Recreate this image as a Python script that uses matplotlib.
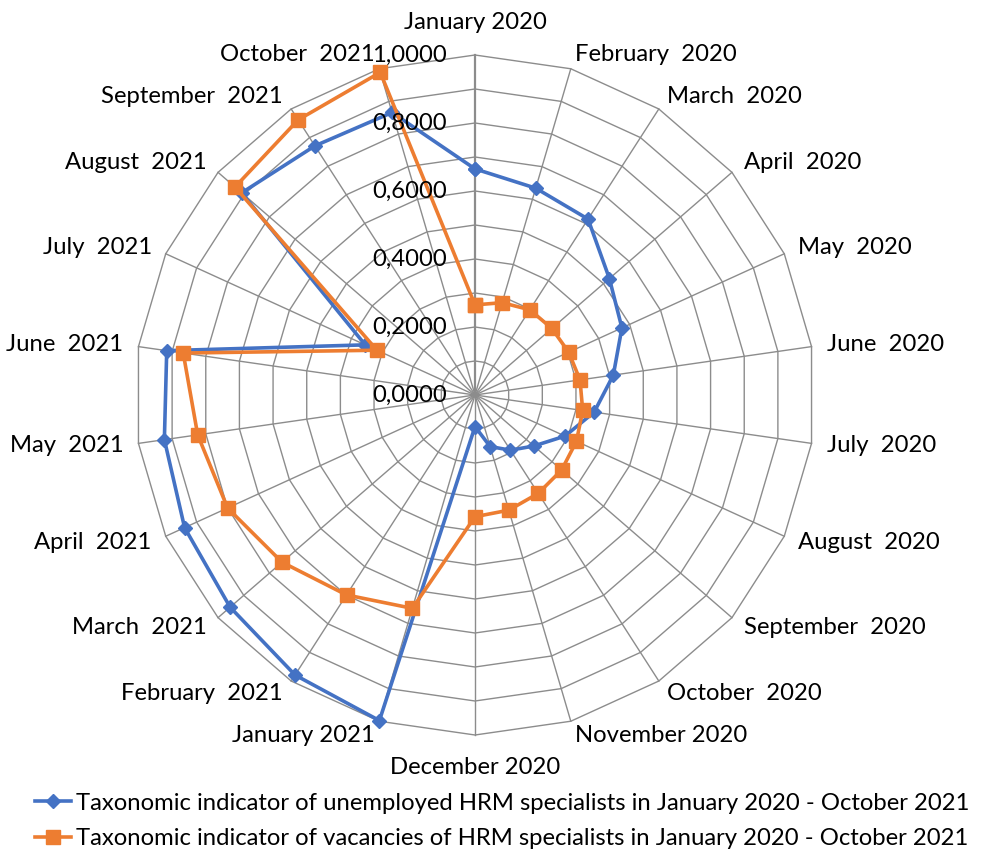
import numpy as np
import matplotlib
matplotlib.use("Agg")
import matplotlib.pyplot as plt
from matplotlib.lines import Line2D

plt.rcParams['font.family'] = ['Lato', 'DejaVu Sans']

categories = ["January 2020", "February  2020", "March  2020", "April  2020", "May  2020",
              "June  2020", "July  2020", "August  2020", "September  2020", "October  2020",
              "November 2020", "December 2020", "January 2021", "February  2021", "March  2021",
              "April  2021", "May  2021", "June  2021", "July  2021", "August  2021",
              "September  2021", "October  2021"]

unemployed = [0.665, 0.634, 0.615, 0.523, 0.475, 0.411, 0.354, 0.291, 0.229, 0.193,
              0.158, 0.093, 0.998, 0.979, 0.953, 0.939, 0.923, 0.916, 0.355, 0.908,
              0.871, 0.866]
vacancies = [0.265, 0.283, 0.298, 0.299, 0.303, 0.312, 0.320, 0.328, 0.337, 0.344,
             0.353, 0.358, 0.654, 0.699, 0.751, 0.800, 0.824, 0.867, 0.317, 0.934,
             0.962, 0.989]

ring_levels = [0.1, 0.2, 0.3, 0.4, 0.5, 0.6, 0.7, 0.8, 0.9, 1.0]
tick_levels = [0.0, 0.2, 0.4, 0.6, 0.8, 1.0]
tick_labels = ["0,0000", "0,2000", "0,4000", "0,6000", "0,8000", "1,0000"]

legend_labels = ["Taxonomic indicator of unemployed HRM specialists in January 2020 - October 2021",
                 "Taxonomic indicator of vacancies of HRM specialists in January 2020 - October 2021"]

blue = "#4472C4"
orange = "#ED7D31"
grid_c = "#8c8c8c"
FS = 17.2

W, H = 991, 855
fig = plt.figure(figsize=(W / 100, H / 100), dpi=100)
cx, cy, R = 475, 395, 340
ax = fig.add_axes([(cx - R) / W, (H - cy - R) / H, 2 * R / W, 2 * R / H], projection='polar')
ax.set_theta_zero_location('N')
ax.set_theta_direction(-1)
ax.set_ylim(0, 1.0)
ax.grid(False)
ax.spines['polar'].set_visible(False)
ax.set_xticks([])
ax.set_yticks([])
ax.patch.set_visible(False)

n = len(categories)
theta = np.arange(n) * 2 * np.pi / n
theta_c = np.append(theta, theta[0])

# polygon rings
for lv in ring_levels:
    ax.plot(theta_c, [lv] * (n + 1), color=grid_c, lw=1.0, zorder=1, clip_on=False)
# spokes
for i, t in enumerate(theta):
    ax.plot([t, t], [0, 1.0], color=grid_c, lw=1.6 if i == 0 else 1.0, zorder=1, clip_on=False)

# series
ax.plot(theta_c, unemployed + unemployed[:1], color=blue, lw=2.6, marker='D', ms=7,
        mfc=blue, mec=blue, zorder=3, clip_on=False)
ax.plot(theta_c, vacancies + vacancies[:1], color=orange, lw=2.6, marker='s', ms=10,
        mfc=orange, mec=orange, zorder=4, clip_on=False)

# radial tick labels
for lv, lab in zip(tick_levels, tick_labels):
    ax.annotate(lab, xy=(0, lv), xytext=(-28, 0), textcoords='offset pixels',
                ha='right', va='center', fontsize=FS, color='black', zorder=5)

# category labels
for i, (t, lab) in enumerate(zip(theta, categories)):
    s = np.sin(t)
    if abs(s) < 1e-6:
        ax.text(t, 1.097, lab, ha='center', va='center', fontsize=FS, color='black')
    else:
        ax.text(t, 1.045, lab, ha='left' if s > 0 else 'right', va='center',
                fontsize=FS, color='black')

# legend
handles = [Line2D([], [], color=blue, lw=2.6, marker='D', ms=7),
           Line2D([], [], color=orange, lw=2.6, marker='s', ms=10)]
fig.legend(handles, legend_labels, loc='lower left', bbox_to_anchor=(22 / W, -7 / H),
           frameon=False, fontsize=FS, handlelength=1.5, handletextpad=0.2,
           labelspacing=0.6, borderaxespad=0.15)

fig.savefig("out.png", dpi=100)
